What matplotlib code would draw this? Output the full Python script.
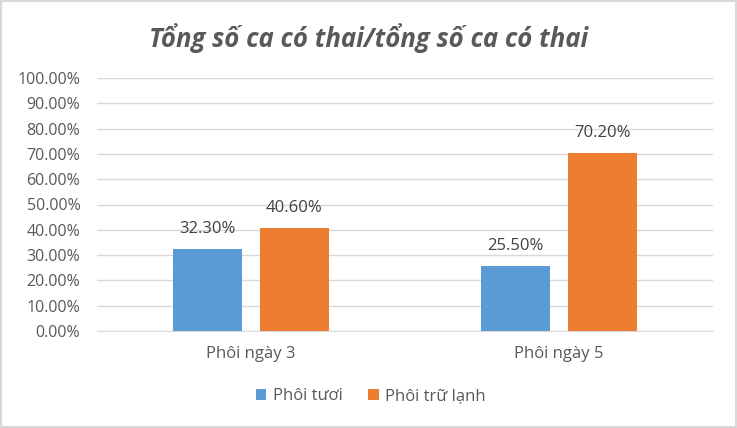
import matplotlib.pyplot as plt
import numpy as np
from matplotlib.patches import Rectangle

categories = ["Phôi ngày 3", "Phôi ngày 5"]
fresh = [32.3, 25.5]
frozen = [40.6, 70.2]
series_names = ["Phôi tươi", "Phôi trữ lạnh"]

plt.rcParams["font.family"] = ["Open Sans", "DejaVu Sans"]
gray = "#595959"

fig = plt.figure(figsize=(7.37, 4.28), dpi=100)
ax = fig.add_axes([97 / 737, 1 - 331 / 428, 616 / 737, 253 / 428])

x = np.arange(len(categories))
w = 0.224
off = 0.141
b1 = ax.bar(x - off, fresh, w, color="#5B9BD5", label=series_names[0], zorder=3)
b2 = ax.bar(x + off, frozen, w, color="#ED7D31", label=series_names[1], zorder=3)

# labels sit ~20 px above each bar
for bars, vals in ((b1, fresh), (b2, frozen)):
    for b, v in zip(bars, vals):
        ax.text(b.get_x() + b.get_width() / 2, v + 7.9, f"{v:.2f}%",
                ha="center", va="center", fontsize=12, color="#404040", zorder=4)

ax.set_xlim(-0.5, 1.5)
ax.set_ylim(0, 100)
ax.set_yticks(np.arange(0, 101, 10))
ax.set_yticklabels([f"{t:.2f}%" for t in np.arange(0, 101, 10)])
ax.set_xticks(x)
ax.set_xticklabels(categories)
ax.tick_params(axis="both", length=0, colors=gray)
ax.tick_params(axis="y", pad=12, labelsize=11.5)
ax.tick_params(axis="x", pad=11, labelsize=12)
ax.grid(axis="y", color="#D9D9D9", linewidth=1, zorder=0)
for s in ["top", "right", "left"]:
    ax.spines[s].set_visible(False)
ax.spines["bottom"].set_color("#D9D9D9")

fig.text(0.5, 1 - 38 / 428, "Tổng số ca có thai/tổng số ca có thai", ha="center",
         va="center", fontsize=18.5, style="italic", fontweight="bold", color=gray)

leg = fig.legend(loc="center", bbox_to_anchor=(0.503, 1 - 396 / 428), ncol=2,
                 frameon=False, fontsize=12, handlelength=0.65, handleheight=0.65,
                 columnspacing=1.5, handletextpad=0.4)
for t in leg.get_texts():
    t.set_color(gray)

fig.patches.append(Rectangle((0.002, 0.002), 0.996, 0.996, transform=fig.transFigure,
                             fill=False, edgecolor="#D9D9D9", linewidth=1.5))

fig.savefig("out.png", dpi=100)
